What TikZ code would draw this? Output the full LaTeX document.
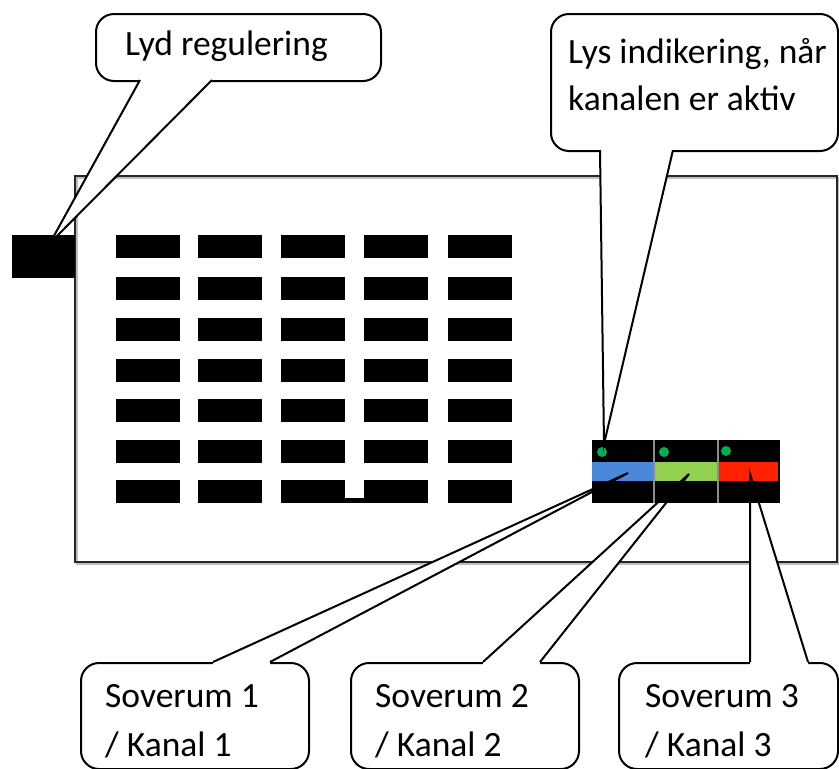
\documentclass[tikz,border=0pt]{standalone}
\usepackage{fontspec}
\usetikzlibrary{calc}
\setmainfont{Carlito}
\newcommand\lblfont{\fontsize{35.5}{48}\selectfont}
\definecolor{barblue}{RGB}{74,136,220}
\definecolor{bargreen}{RGB}{146,208,80}
\definecolor{barred}{RGB}{255,34,0}
\definecolor{ledgreen}{RGB}{0,176,80}
\tikzset{
  x=1pt,y=-1pt,
  callbox/.style={draw=black,fill=white,line width=2pt,rounded corners=18pt,inner sep=0pt,anchor=north west},
  lbl/.style={anchor=base west,inner sep=0pt,font=\lblfont},
  tailline/.style={draw=black,line width=2pt,line join=miter},
  key/.style={fill=black},
}
\begin{document}
\begin{tikzpicture}
\useasboundingbox (0,0) rectangle (839,769);
% main housing
\draw[black!25,line width=2.5pt] (77,178) rectangle (839,564);
\draw[black!85,line width=2.4pt] (75,176) rectangle (837,562);
% volume knob
\fill[black] (12,235) rectangle (75,278);
% key grid
\foreach \x in {116,198,281,364,448}{
  \foreach \y in {235,277,318,359,399,440,480}{
    \fill[key] (\x,\y) rectangle ++(64,23);
  }
}
\fill[black] (345,498) rectangle (365,503);
% callout boxes
\node[callbox,minimum width=285pt,minimum height=67pt] (lyd) at (95,13) {};
\node[callbox,minimum width=287pt,minimum height=137pt] (lys) at (550,13) {};
\node[callbox,minimum width=228pt,minimum height=106pt] (s1) at (80,662) {};
\node[callbox,minimum width=228pt,minimum height=106pt] (s2) at (350,662) {};
\node[callbox,minimum width=219pt,minimum height=106pt] (s3) at (618,662) {};
% tail points
\coordinate (lydA) at (140,80);  \coordinate (lydB) at (212,80);  \coordinate (lydT) at (50,243);
\coordinate (lysA) at (600,150); \coordinate (lysB) at (673,150); \coordinate (lysT) at (604,444);
\coordinate (s1A) at (213,662); \coordinate (s1B) at (270,662); \coordinate (s1T) at (628,473);
\coordinate (s2A) at (483,662); \coordinate (s2B) at (540,662); \coordinate (s2T) at (689,474);
\coordinate (s3A) at (750,662); \coordinate (s3B) at (808,662); \coordinate (s3T) at (750,474);
% tail fills
\fill[white] (lydA) -- (lydT) -- (lydB) -- ++(0,-3) -- ($(lydA)+(0,-3)$) -- cycle;
\fill[white] (lysA) -- (lysT) -- (lysB) -- ++(0,-3) -- ($(lysA)+(0,-3)$) -- cycle;
\fill[white] (s1A) -- (s1T) -- (s1B) -- ++(0,3) -- ($(s1A)+(0,3)$) -- cycle;
\fill[white] (s2A) -- (s2T) -- (s2B) -- ++(0,3) -- ($(s2A)+(0,3)$) -- cycle;
\fill[white] (s3A) -- (s3T) -- (s3B) -- ++(0,3) -- ($(s3A)+(0,3)$) -- cycle;
% channel panel
\fill[black] (592,440) rectangle (780,503);
\fill[barblue] (592,462) rectangle (653,481);
\fill[bargreen] (655,462) rectangle (717,481);
\fill[barred] (719,462) rectangle (778,481);
\fill[black!45] (653,440) rectangle (655,503);
\fill[black!45] (717,440) rectangle (719,503);
\fill[ledgreen] (602,452) circle (5);
\fill[ledgreen] (664,452) circle (5);
\fill[ledgreen] (726,451) circle (5);
% tail lines
\draw[tailline] (lydA) -- (lydT) -- (lydB);
\draw[tailline] (lysA) -- (lysT) -- (lysB);
\draw[tailline] (s1A) -- (s1T) -- (s1B);
\draw[tailline] (s2A) -- (s2T) -- (s2B);
\draw[tailline] (s3A) -- (s3T) -- (s3B);
% texts
\node[lbl] (tlyd) at (125,55) {Lyd regulering};
\node[lbl] (tlys1) at (568,63) {Lys indikering, når};
\node[lbl] (tlys2) at (568,110) {kanalen er aktiv};
\node[lbl] (ts1a) at (105,707) {Soverum 1};
\node[lbl] (ts1b) at (105,756) {/ Kanal 1};
\node[lbl] (ts2a) at (375,707) {Soverum 2};
\node[lbl] (ts2b) at (375,756) {/ Kanal 2};
\node[lbl] (ts3a) at (645,707) {Soverum 3};
\node[lbl] (ts3b) at (645,756) {/ Kanal 3};
\end{tikzpicture}
\end{document}
